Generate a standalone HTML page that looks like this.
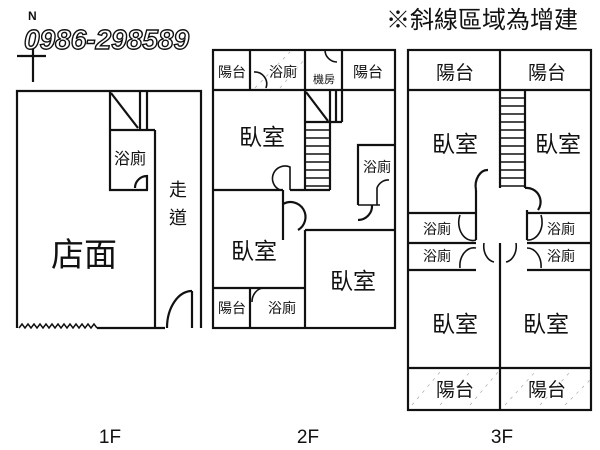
<!DOCTYPE html>
<html><head><meta charset="utf-8"><style>
html,body{margin:0;padding:0;background:#fff;width:600px;height:450px;overflow:hidden}
svg text{font-family:"Liberation Sans","Noto Sans CJK TC",sans-serif;fill:#111}
</style></head><body>
<svg width="600" height="450" viewBox="0 0 600 450" xmlns="http://www.w3.org/2000/svg">
<g stroke="#111" stroke-width="2.2" fill="none">
<line x1="17" y1="56" x2="46" y2="56"/><line x1="33" y1="46" x2="33" y2="82"/>
<polyline points="17,328 17,91 201,91 201,328"/>
<polyline points="97,328 165,328"/>
<path d="M19,328 l3,-4 l3,4 l3,-4 l3,4 l3,-4 l3,4 l3,-4 l3,4 l3,-4 l3,4 l3,-4 l3,4 l3,-4 l3,4 l3,-4 l3,4 l3,-4 l3,4 l3,-4 l3,4 l3,-4 l3,4 l3,-4 l3,4 l3,-4 l3,4" stroke-width="1.5"/>
<line x1="155" y1="130" x2="155" y2="328"/>
<polyline points="110,91 110,190 148,190"/>
<line x1="110" y1="130" x2="155" y2="130"/>
<line x1="140" y1="91" x2="140" y2="130"/><line x1="147" y1="91" x2="147" y2="130"/>
<line x1="111" y1="93" x2="138" y2="128"/>
<path d="M147,190 L147,176 A12,12 0 0 0 135,188"/>
<line x1="192" y1="291" x2="192" y2="328"/>
<path d="M167,328 A25,37 0 0 1 192,291"/>
<rect x="213" y="50" width="182" height="278"/>
<line x1="213" y1="90" x2="395" y2="90"/>
<line x1="250" y1="50" x2="250" y2="90"/>
<line x1="305" y1="50" x2="305" y2="190"/>
<line x1="342" y1="50" x2="342" y2="90"/>
<path d="M254,72 A12,12 0 0 1 266,88" stroke-width="1.6"/>
<path d="M325,50 A12,12 0 0 0 337,62" stroke-width="1.6"/>
<line x1="330" y1="90" x2="330" y2="190"/><line x1="336" y1="90" x2="336" y2="122"/><line x1="342" y1="90" x2="342" y2="122"/>
<line x1="305" y1="122" x2="342" y2="122"/>
<line x1="306" y1="92" x2="328" y2="121"/>
<g stroke-width="1.5">
<line x1="305" y1="130" x2="330" y2="130"/><line x1="305" y1="138" x2="330" y2="138"/><line x1="305" y1="146" x2="330" y2="146"/><line x1="305" y1="154" x2="330" y2="154"/><line x1="305" y1="162" x2="330" y2="162"/><line x1="305" y1="170" x2="330" y2="170"/><line x1="305" y1="178" x2="330" y2="178"/><line x1="305" y1="186" x2="330" y2="186"/>
</g>
<line x1="213" y1="190" x2="283" y2="190"/>
<line x1="290" y1="190" x2="330" y2="190"/>
<path d="M290,190 L290,167 A12,12 0 0 0 280,190" stroke-width="1.6"/>
<line x1="283" y1="190" x2="283" y2="240"/>
<path d="M283,204 A14,14 0 0 1 298,230"/>
<polyline points="358,205 358,145 395,145"/>
<path d="M377,205 L377,188 A12,12 0 0 1 389,180" stroke-width="1.6"/>
<line x1="358" y1="205" x2="380" y2="205" stroke-width="1.6"/>
<path d="M372,205 A14,14 0 0 1 358,220"/>
<line x1="305" y1="230" x2="395" y2="230"/>
<line x1="305" y1="230" x2="305" y2="328"/>
<line x1="213" y1="288" x2="305" y2="288"/>
<line x1="250" y1="288" x2="250" y2="328"/>
<path d="M264,288 A12,14 0 0 0 252,302" stroke-width="1.6"/>
<rect x="408" y="50" width="183" height="360"/>
<line x1="408" y1="90" x2="591" y2="90"/>
<line x1="500" y1="50" x2="500" y2="90"/>
<line x1="500" y1="90" x2="500" y2="188"/><line x1="525" y1="90" x2="525" y2="188"/>
<g stroke-width="1.5">
<line x1="500" y1="98" x2="525" y2="98"/><line x1="500" y1="106" x2="525" y2="106"/><line x1="500" y1="114" x2="525" y2="114"/><line x1="500" y1="122" x2="525" y2="122"/><line x1="500" y1="130" x2="525" y2="130"/><line x1="500" y1="138" x2="525" y2="138"/><line x1="500" y1="146" x2="525" y2="146"/><line x1="500" y1="154" x2="525" y2="154"/><line x1="500" y1="162" x2="525" y2="162"/><line x1="500" y1="170" x2="525" y2="170"/><line x1="500" y1="178" x2="525" y2="178"/><line x1="500" y1="186" x2="525" y2="186"/>
</g>
<line x1="408" y1="213" x2="476" y2="213"/><line x1="408" y1="243" x2="476" y2="243"/><line x1="408" y1="270" x2="476" y2="270"/>
<line x1="527" y1="213" x2="591" y2="213"/><line x1="527" y1="243" x2="591" y2="243"/><line x1="527" y1="270" x2="591" y2="270"/>
<line x1="476" y1="190" x2="476" y2="240"/><line x1="527" y1="210" x2="527" y2="240"/>
<path d="M476,190 A12,16 0 0 1 488,170"/>
<path d="M525,188 A14,14 0 0 1 538,210"/>
<path d="M476,240 A14,18 0 0 1 460,215" stroke-width="1.6"/>
<path d="M527,240 A14,18 0 0 0 541,215" stroke-width="1.6"/>
<line x1="500" y1="243" x2="500" y2="410"/>
<path d="M484,243 A12,16 0 0 0 494,262" stroke-width="1.6"/>
<path d="M516,243 A12,16 0 0 1 506,262" stroke-width="1.6"/>
<path d="M476,248 A14,18 0 0 0 460,268" stroke-width="1.6"/>
<path d="M527,248 A14,18 0 0 1 541,268" stroke-width="1.6"/>
<line x1="408" y1="368" x2="591" y2="368"/>
</g>
<g fill="none" stroke="#aaa" stroke-width="0.7" stroke-dasharray="3,5">
<line x1="412" y1="405" x2="440" y2="372"/><line x1="440" y1="405" x2="470" y2="372"/><line x1="470" y1="405" x2="498" y2="372"/>
<line x1="505" y1="405" x2="535" y2="372"/><line x1="540" y1="405" x2="570" y2="372"/><line x1="565" y1="405" x2="590" y2="380"/>
<line x1="255" y1="88" x2="290" y2="52"/><line x1="280" y1="88" x2="304" y2="60"/>
</g>
<text x="28" y="20" font-size="12" font-weight="bold">N</text>
<text x="24" y="49" font-size="28" font-weight="bold" font-style="italic" stroke="#111" stroke-width="1.4" style="fill:#fff">0986-298589</text>
<text x="386" y="28" font-size="24">※斜線區域為增建</text>
<text x="130" y="164" font-size="16" text-anchor="middle">浴廁</text>
<text x="178" y="196" font-size="18" text-anchor="middle">走</text>
<text x="178" y="224" font-size="18" text-anchor="middle">道</text>
<text x="84" y="266" font-size="33" text-anchor="middle">店面</text>
<text x="232" y="77" font-size="14" text-anchor="middle">陽台</text>
<text x="283" y="77" font-size="14" text-anchor="middle">浴廁</text>
<text x="324" y="83" font-size="11" text-anchor="middle">機房</text>
<text x="368" y="77" font-size="15" text-anchor="middle">陽台</text>
<text x="262" y="145" font-size="23" text-anchor="middle">臥室</text>
<text x="377" y="172" font-size="14" text-anchor="middle">浴廁</text>
<text x="254" y="259" font-size="23" text-anchor="middle">臥室</text>
<text x="353" y="289" font-size="23" text-anchor="middle">臥室</text>
<text x="232" y="313" font-size="14" text-anchor="middle">陽台</text>
<text x="282" y="313" font-size="14" text-anchor="middle">浴廁</text>
<text x="455" y="79" font-size="19" text-anchor="middle">陽台</text>
<text x="547" y="79" font-size="19" text-anchor="middle">陽台</text>
<text x="455" y="152" font-size="23" text-anchor="middle">臥室</text>
<text x="558" y="152" font-size="23" text-anchor="middle">臥室</text>
<text x="437" y="234" font-size="14" text-anchor="middle">浴廁</text>
<text x="437" y="261" font-size="14" text-anchor="middle">浴廁</text>
<text x="561" y="234" font-size="14" text-anchor="middle">浴廁</text>
<text x="561" y="261" font-size="14" text-anchor="middle">浴廁</text>
<text x="455" y="332" font-size="23" text-anchor="middle">臥室</text>
<text x="546" y="332" font-size="23" text-anchor="middle">臥室</text>
<text x="455" y="396" font-size="19" text-anchor="middle">陽台</text>
<text x="547" y="396" font-size="19" text-anchor="middle">陽台</text>
<text x="110" y="443" font-size="19" text-anchor="middle">1F</text>
<text x="308" y="443" font-size="19" text-anchor="middle">2F</text>
<text x="502" y="443" font-size="19" text-anchor="middle">3F</text>
</svg>
</body></html>
